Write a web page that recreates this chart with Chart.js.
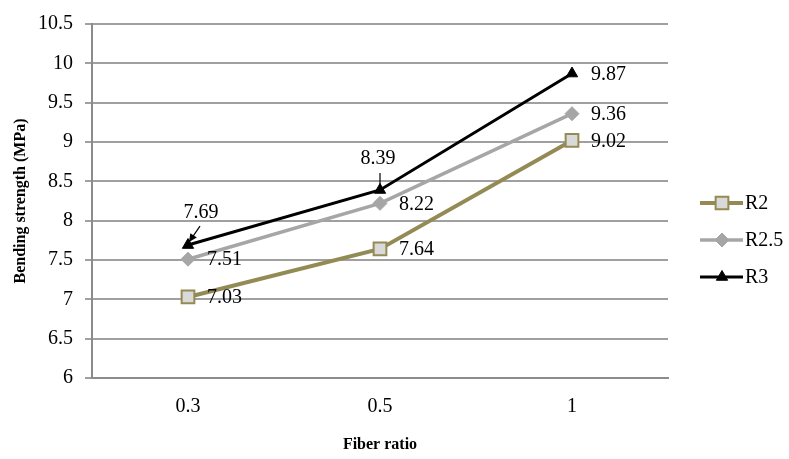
<!DOCTYPE html>
<html><head><meta charset="utf-8">
<script src="https://cdn.jsdelivr.net/npm/chart.js@4/dist/chart.umd.min.js"></script>
<style>html,body{margin:0;padding:0;background:#fff}#wrap{width:789px;height:459px}</style>
</head><body><div id="wrap"><canvas id="c" width="789" height="459"></canvas></div>
<script>
// ---- data ----
const categories = ['0.3', '0.5', '1'];
const seriesNames = ['R2', 'R2.5', 'R3'];
const r2Values = [7.03, 7.64, 9.02];
const r25Values = [7.51, 8.22, 9.36];
const r3Values = [7.69, 8.39, 9.87];
const yTickValues = [6, 6.5, 7, 7.5, 8, 8.5, 9, 9.5, 10, 10.5];
const xTitle = 'Fiber ratio';
const yTitle = 'Bending strength (MPa)';

// ---- styling / layout ----
const SERIF = '"Liberation Serif", "Times New Roman", serif';
const OLIVE = '#948A54';
const GRAY = '#A6A6A6';
const PLOT = {left: 92, right: 668, top: 16, bottom: 378};
// label placement: default right of point; some with leader line above
const leaderLabels = {2: {0: {dx: 13, dy: -32, from: [12, -19], to: [1, -3], arrow: true}, 1: {dx: -2, dy: -31, from: [0, -17], to: [0, -3], arrow: false}}};

const labelPlugin = {
  id: 'pointLabels',
  afterDatasetsDraw(chart) {
    const ctx = chart.ctx;
    ctx.save();
    ctx.font = '20px ' + SERIF;
    ctx.fillStyle = '#000';
    ctx.textBaseline = 'middle';
    chart.data.datasets.forEach((ds, di) => {
      const meta = chart.getDatasetMeta(di);
      meta.data.forEach((pt, i) => {
        const txt = ds.data[i].toFixed(2);
        const ld = leaderLabels[di] && leaderLabels[di][i];
        if (ld) {
          ctx.textAlign = 'center';
          ctx.fillText(txt, pt.x + ld.dx, pt.y + ld.dy);
          const x1 = pt.x + ld.from[0], y1 = pt.y + ld.from[1];
          const x2 = pt.x + ld.to[0], y2 = pt.y + ld.to[1];
          ctx.strokeStyle = '#000';
          ctx.lineWidth = 1.2;
          ctx.beginPath(); ctx.moveTo(x1, y1); ctx.lineTo(x2, y2); ctx.stroke();
          if (ld.arrow) {
            const a = Math.atan2(y2 - y1, x2 - x1);
            ctx.beginPath();
            ctx.moveTo(x2, y2);
            ctx.lineTo(x2 - 9 * Math.cos(a - 0.45), y2 - 9 * Math.sin(a - 0.45));
            ctx.lineTo(x2 - 9 * Math.cos(a + 0.45), y2 - 9 * Math.sin(a + 0.45));
            ctx.closePath(); ctx.fill();
          }
        } else {
          ctx.textAlign = 'left';
          ctx.fillText(txt, pt.x + 19, pt.y + 1);
        }
      });
    });
    ctx.restore();
  },
  afterDraw(chart) {
    // legend with line + marker samples
    const ctx = chart.ctx;
    ctx.save();
    const rows = [203, 240, 277];
    chart.data.datasets.forEach((ds, di) => {
      const y = rows[di];
      ctx.strokeStyle = ds.borderColor;
      ctx.lineWidth = ds.borderWidth;
      ctx.beginPath(); ctx.moveTo(700, y); ctx.lineTo(743, y); ctx.stroke();
      ctx.fillStyle = ds.pointBackgroundColor; ctx.strokeStyle = ds.pointBorderColor; ctx.lineWidth = ds.pointBorderWidth;
      Chart.helpers.drawPoint(ctx, {pointStyle: ds.pointStyle, radius: ds.pointRadius, borderWidth: ds.pointBorderWidth, rotation: 0}, 722, y);
      ctx.fillStyle = '#000';
      ctx.font = '20px ' + SERIF;
      ctx.textAlign = 'left'; ctx.textBaseline = 'middle';
      ctx.fillText(ds.label, 745, y + 1);
    });
    ctx.restore();
  }
};

new Chart(document.getElementById('c'), {
  type: 'line',
  data: {
    labels: categories,
    datasets: [
      {label: seriesNames[0], data: r2Values, borderColor: OLIVE, borderWidth: 4, pointStyle: 'rect', pointRadius: 9, pointHoverRadius: 9,
       pointBackgroundColor: '#D9D9D9', pointBorderColor: OLIVE, pointBorderWidth: 2, tension: 0, order: 3},
      {label: seriesNames[1], data: r25Values, borderColor: GRAY, borderWidth: 3.5, pointStyle: 'rectRot', pointRadius: 7, pointHoverRadius: 7,
       pointBackgroundColor: GRAY, pointBorderColor: GRAY, pointBorderWidth: 1, tension: 0, order: 2},
      {label: seriesNames[2], data: r3Values, borderColor: '#000', borderWidth: 3, pointStyle: 'triangle', pointRadius: 6.5, pointHoverRadius: 6.5,
       pointBackgroundColor: '#000', pointBorderColor: '#000', pointBorderWidth: 1, tension: 0, order: 1}
    ]
  },
  options: {
    responsive: false, animation: false, devicePixelRatio: 1,
    layout: {padding: {left: 0, right: 789 - PLOT.right, top: PLOT.top, bottom: 0}},
    plugins: {legend: {display: false}, tooltip: {enabled: false}},
    scales: {
      x: {
        offset: true,
        grid: {display: false, drawTicks: false},
        border: {display: true, color: '#8C8C8C', width: 2},
        ticks: {font: {family: SERIF, size: 20}, color: '#000', padding: 17},
        title: {display: true, text: xTitle, font: {family: SERIF, size: 16, weight: 'bold'}, color: '#000', padding: {top: 0, bottom: 5}},
        afterFit(s) { s.height = 459 - PLOT.bottom; }
      },
      y: {
        min: yTickValues[0], max: yTickValues[yTickValues.length - 1],
        afterBuildTicks(s) { s.ticks = yTickValues.map(v => ({value: v})); },
        grid: {color: '#A0A0A0', lineWidth: 2, tickLength: 7, drawTicks: true},
        border: {display: true, color: '#8C8C8C', width: 2},
        ticks: {font: {family: SERIF, size: 20}, color: '#000', padding: 12, callback: v => String(v)},
        title: {display: true, text: yTitle, font: {family: SERIF, size: 16, weight: 'bold'}, color: '#000', padding: {top: 11, bottom: 0}},
        afterFit(s) { s.width = PLOT.left; }
      }
    }
  },
  plugins: [labelPlugin]
});
</script></body></html>
